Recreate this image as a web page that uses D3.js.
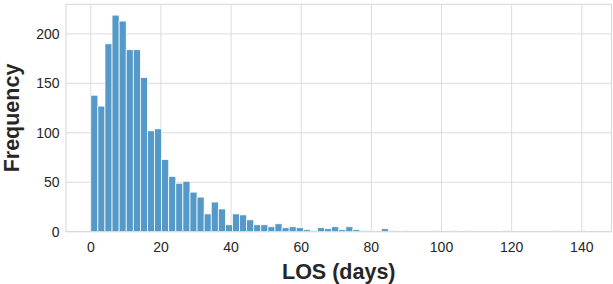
<!DOCTYPE html>
<html>
<head>
<meta charset="utf-8">
<script src="https://cdn.jsdelivr.net/npm/d3@7"></script>
<style>
  body { margin: 0; background: #fff; }
  svg { display: block; font-family: "Liberation Sans", Arial, sans-serif; }
</style>
</head>
<body>
<script>
// histogram of length of stay, bins start at 0, width ~2.02 days
var binStart = 0;
var binWidth = 2.02;
var counts = [
  138, 127, 190, 219, 213, 184, 184, 156, 102, 104,
  73, 56, 49, 51, 40, 35, 18, 30, 23, 7,
  18, 17, 12, 7, 7, 5, 8, 4, 5, 4,
  2, 1, 4, 3, 5, 2, 5, 2, 1, 1,
  0, 3, 1, 0, 1, 0, 0, 0, 1, 0,
  0, 1, 0, 1, 0, 0, 0, 0, 1, 0,
  0, 0, 0, 0, 0, 1, 0, 0, 0, 1
];
var xTicks = [0, 20, 40, 60, 80, 100, 120, 140];
var yTicks = [0, 50, 100, 150, 200];
var xLabel = "LOS (days)";
var yLabel = "Frequency";

var width = 613, height = 284;
var margin = { left: 66, right: 1.5, top: 4.3, bottom: 52.3 };

var bins = counts.map(function(c, i) {
  return { x0: binStart + i * binWidth, x1: binStart + (i + 1) * binWidth, n: c };
});
var dataMax = bins[bins.length - 1].x1;
var pad = (dataMax - binStart) * 0.05;

var x = d3.scaleLinear()
  .domain([binStart - pad, dataMax + pad])
  .range([margin.left, width - margin.right]);
var y = d3.scaleLinear()
  .domain([0, d3.max(counts) * 1.05])
  .range([height - margin.bottom, margin.top]);

var svg = d3.select("body").append("svg")
  .attr("width", width)
  .attr("height", height);

// grid
svg.append("g")
  .selectAll("line.gx")
  .data(xTicks).enter().append("line")
  .attr("x1", d => x(d)).attr("x2", d => x(d))
  .attr("y1", y.range()[0]).attr("y2", y.range()[1])
  .attr("stroke", "#dcdcdc").attr("stroke-width", 1);
svg.append("g")
  .selectAll("line.gy")
  .data(yTicks).enter().append("line")
  .attr("x1", x.range()[0]).attr("x2", x.range()[1])
  .attr("y1", d => y(d)).attr("y2", d => y(d))
  .attr("stroke", "#dcdcdc").attr("stroke-width", 1);

// bars
svg.append("g")
  .selectAll("rect")
  .data(bins.filter(d => d.n > 0)).enter().append("rect")
  .attr("x", d => x(d.x0))
  .attr("width", d => x(d.x1) - x(d.x0))
  .attr("y", d => y(d.n))
  .attr("height", d => y(0) - y(d.n))
  .attr("fill", "#5499c7")
  .attr("stroke", "#fff")
  .attr("stroke-width", 0.75);

// frame
svg.append("rect")
  .attr("x", x.range()[0]).attr("y", y.range()[1])
  .attr("width", x.range()[1] - x.range()[0])
  .attr("height", y.range()[0] - y.range()[1])
  .attr("fill", "none")
  .attr("stroke", "#d6d6d6")
  .attr("stroke-width", 1);

// tick labels
svg.append("g")
  .selectAll("text")
  .data(xTicks).enter().append("text")
  .attr("x", d => x(d))
  .attr("y", 252)
  .attr("text-anchor", "middle")
  .attr("font-size", 14)
  .attr("fill", "#262626")
  .text(d => d);
svg.append("g")
  .selectAll("text")
  .data(yTicks).enter().append("text")
  .attr("x", 59.5)
  .attr("y", d => y(d) + 5)
  .attr("text-anchor", "end")
  .attr("font-size", 14)
  .attr("fill", "#262626")
  .text(d => d);

// axis titles
svg.append("text")
  .attr("x", (x.range()[0] + x.range()[1]) / 2)
  .attr("y", 279)
  .attr("text-anchor", "middle")
  .attr("font-size", 21.5)
  .attr("font-weight", "bold")
  .attr("fill", "#262626")
  .text(xLabel);
svg.append("text")
  .attr("transform", "translate(18.5," + ((y.range()[0] + y.range()[1]) / 2) + ") rotate(-90)")
  .attr("text-anchor", "middle")
  .attr("font-size", 21.5)
  .attr("font-weight", "bold")
  .attr("fill", "#262626")
  .text(yLabel);
</script>
</body>
</html>
